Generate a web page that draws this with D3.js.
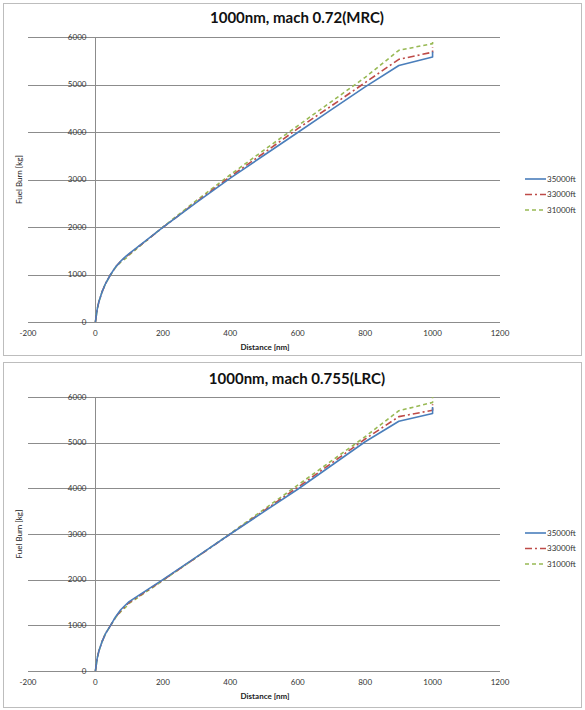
<!DOCTYPE html>
<html>
<head>
<meta charset="utf-8">
<script src="https://cdn.jsdelivr.net/npm/d3@7"></script>
<style>
  body { margin: 0; background: #fff; }
  text { font-family: Lato, "Liberation Sans", sans-serif; }
</style>
</head>
<body>
<svg id="chart"></svg>
<script>
// distances [nm], climb points then cruise every 100nm, last point = descent
const distance = [0, 5, 10, 20, 30, 45, 60, 75, 90, 100, 200, 300, 400, 500, 600, 700, 800, 900, 1000, 1000];

// fuel burn [kg], mach 0.72 (MRC)
const mrc35000 = [0, 260, 420, 640, 810, 1000, 1160, 1280, 1380, 1440, 1990, 2520, 3030, 3510, 3990, 4470, 4950, 5400, 5580, 5690];
const mrc33000 = [0, 260, 420, 640, 810, 1000, 1160, 1280, 1370, 1430, 1990, 2530, 3060, 3560, 4070, 4550, 5040, 5530, 5680, 5790];
const mrc31000 = [0, 260, 420, 640, 810, 990, 1150, 1260, 1340, 1410, 2000, 2560, 3100, 3620, 4130, 4640, 5150, 5720, 5860, 5960];

// fuel burn [kg], mach 0.755 (LRC)
const lrc35000 = [0, 270, 430, 650, 820, 1000, 1190, 1340, 1450, 1520, 2000, 2500, 3000, 3490, 3980, 4500, 5020, 5470, 5640, 5780];
const lrc33000 = [0, 270, 430, 650, 820, 1000, 1180, 1320, 1430, 1500, 1990, 2490, 3000, 3510, 4020, 4550, 5080, 5570, 5710, 5840];
const lrc31000 = [0, 270, 430, 650, 820, 1000, 1170, 1300, 1400, 1480, 1980, 2490, 3010, 3540, 4070, 4600, 5130, 5700, 5880, 6000];

const seriesNames = ['35000ft', '33000ft', '31000ft'];
const seriesColors = ['#4A7EBB', '#BE4B48', '#98B954'];
const seriesDash = [null, '7,3,2,3', '4,3'];

const xTicks = [-200, 0, 200, 400, 600, 800, 1000, 1200];
const yTicks = [0, 1000, 2000, 3000, 4000, 5000, 6000];

const width = 585;
const height = 710;

const svg = d3.select('#chart')
  .attr('width', width)
  .attr('height', height);

const panels = [
  { title: '1000nm, mach 0.72(MRC)', series: [mrc35000, mrc33000, mrc31000],
    top: 3, bottom: 355, yRange: [322, 37], titleY: 18, legendY: 179 },
  { title: '1000nm, mach 0.755(LRC)', series: [lrc35000, lrc33000, lrc31000],
    top: 362, bottom: 707, yRange: [671, 397], titleY: 379, legendY: 533 }
];

panels.forEach(drawPanel);

function drawPanel(p) {
  const g = svg.append('g');

  g.append('rect')
    .attr('x', 3.5).attr('y', p.top + 0.5)
    .attr('width', 578).attr('height', p.bottom - p.top)
    .attr('fill', '#fff')
    .attr('stroke', '#bdbdbd');

  const x = d3.scaleLinear().domain([-200, 1200]).range([28, 500]);
  const y = d3.scaleLinear().domain([0, 6000]).range(p.yRange);

  // horizontal gridlines
  g.selectAll('.grid')
    .data(yTicks)
    .enter().append('line')
      .attr('x1', x(-200)).attr('x2', x(1200))
      .attr('y1', d => Math.round(y(d)) + 0.5)
      .attr('y2', d => Math.round(y(d)) + 0.5)
      .attr('stroke', '#8c8c8c')
      .attr('stroke-width', 1);

  // vertical axis at x = 0
  g.append('line')
    .attr('x1', Math.round(x(0)) + 0.5).attr('x2', Math.round(x(0)) + 0.5)
    .attr('y1', y(0)).attr('y2', y(6000))
    .attr('stroke', '#8c8c8c');

  // y tick labels
  g.selectAll('.ylab')
    .data(yTicks)
    .enter().append('text')
      .attr('x', x(0) - 9)
      .attr('y', d => y(d))
      .attr('dy', '0.35em')
      .attr('text-anchor', 'end')
      .attr('font-size', 8)
      .attr('fill', '#333')
      .text(d => d);

  // x tick labels
  g.selectAll('.xlab')
    .data(xTicks)
    .enter().append('text')
      .attr('x', d => x(d))
      .attr('y', y(0) + 14)
      .attr('text-anchor', 'middle')
      .attr('font-size', 8)
      .attr('fill', '#333')
      .text(d => d);

  g.append('text')
    .attr('x', 265)
    .attr('y', y(0) + 28)
    .attr('text-anchor', 'middle')
    .attr('font-size', 8)
    .attr('font-weight', 'bold')
    .attr('fill', '#222')
    .text('Distance [nm]');

  const midY = (p.yRange[0] + p.yRange[1]) / 2;
  g.append('text')
    .attr('transform', 'translate(22,' + midY + ') rotate(-90)')
    .attr('text-anchor', 'middle')
    .attr('font-size', 8)
    .attr('fill', '#222')
    .text('Fuel Burn [kg]');

  g.append('text')
    .attr('x', 297)
    .attr('y', p.titleY)
    .attr('dy', '0.35em')
    .attr('text-anchor', 'middle')
    .attr('font-size', 15)
    .attr('font-weight', 'bold')
    .attr('fill', '#111')
    .text(p.title);

  const line = d3.line()
    .x((d, i) => x(distance[i]))
    .y(d => y(d));

  // draw 31000 first so 35000 sits on top
  [2, 1, 0].forEach(k => {
    g.append('path')
      .datum(p.series[k])
      .attr('d', line)
      .attr('fill', 'none')
      .attr('stroke', seriesColors[k])
      .attr('stroke-width', 1.6)
      .attr('stroke-linejoin', 'round')
      .attr('stroke-dasharray', seriesDash[k]);
  });

  // legend
  const leg = g.selectAll('.leg')
    .data(seriesNames)
    .enter().append('g')
      .attr('transform', (d, i) => 'translate(525,' + (p.legendY + i * 15.5) + ')');

  leg.append('line')
    .attr('x1', 0).attr('x2', 21)
    .attr('stroke', (d, i) => seriesColors[i])
    .attr('stroke-width', 1.6)
    .attr('stroke-dasharray', (d, i) => seriesDash[i]);

  leg.append('text')
    .attr('x', 22)
    .attr('dy', '0.35em')
    .attr('font-size', 8)
    .attr('fill', '#333')
    .text(d => d);
}
</script>
</body>
</html>
